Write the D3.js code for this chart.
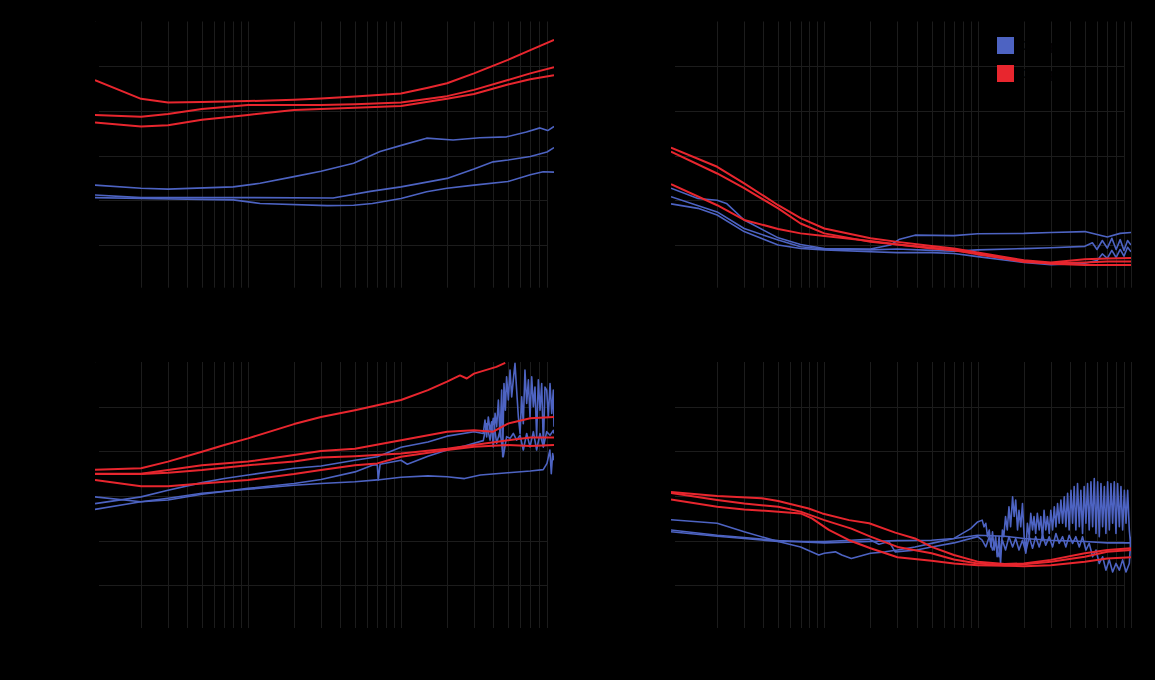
<!DOCTYPE html>
<html><head><meta charset="utf-8">
<script src="https://cdn.jsdelivr.net/npm/d3@7"></script>
<style>html,body{margin:0;padding:0;background:#000;}svg{display:block;}</style>
</head><body>
<svg id="chart" width="1155" height="680"></svg>
<script>
// ---------- data ----------
const freqDomain = [1, 1000];
const yDomain = [0, 60];
const yTicks = [0, 10, 20, 30, 40, 50, 60];
const legendLabels = ["Group 1", "Group 2"];
const panelTitles = ["(a)", "(b)", "(c)", "(d)"];
const xLabel = "Frequency (Hz)";
const yLabels = ["Magnitude (dB)", "Magnitude (dB)", "Magnitude (dB)", "Magnitude (dB)"];

// top-left
const tlRed1 = [[1,46.9],[2,42.7],[3,41.9],[5,42.0],[10,42.2],[20,42.5],[30,42.8],[50,43.2],[100,43.9],[150,45.2],[200,46.2],[300,48.4],[500,51.4],[700,53.6],[1000,55.9]];
const tlRed2 = [[1,39.1],[2,38.7],[3,39.3],[5,40.4],[10,41.3],[20,41.3],[30,41.3],[50,41.5],[100,41.9],[200,43.3],[300,44.7],[500,46.9],[700,48.4],[1000,49.8]];
const tlRed3 = [[1,37.4],[2,36.5],[3,36.8],[5,38.0],[10,39.1],[20,40.2],[30,40.4],[50,40.7],[100,41.1],[200,42.7],[300,43.8],[500,45.9],[700,47.1],[1000,48.0]];
const tlBlue1 = [[1,23.4],[2,22.7],[3,22.5],[8,23.0],[12,23.8],[20,25.3],[30,26.5],[49,28.3],[73,30.9],[103,32.4],[147,33.9],[219,33.5],[328,34.0],[490,34.2],[660,35.3],[810,36.2],[910,35.6],[1000,36.5]];
const tlBlue2 = [[1,21.2],[2,20.6],[10,20.6],[36,20.5],[63,22.0],[100,23.0],[200,24.9],[300,27.0],[400,28.6],[500,29.0],[700,29.8],[900,30.8],[1000,31.8]];
const tlBlue3 = [[1,20.6],[2,20.4],[8,20.1],[12,19.3],[33,18.8],[49,18.9],[65,19.3],[100,20.4],[147,21.9],[200,22.7],[300,23.4],[500,24.2],[700,25.7],[850,26.4],[1000,26.3]];

// top-right
const trRed1 = [[1,31.8],[2,27.5],[3,23.8],[5,18.9],[7,16.0],[10,13.7],[20,11.5],[30,10.7],[50,9.8],[70,9.2],[100,8.3],[200,6.6],[300,6.1],[500,6.8],[700,7.0],[1000,7.1]];
const trRed2 = [[1,30.9],[2,26.0],[3,22.7],[5,18.2],[7,14.8],[10,12.6],[20,10.7],[30,10.1],[50,9.4],[70,8.8],[100,7.9],[200,6.4],[300,5.8],[500,5.5],[700,5.5],[1000,5.5]];
const trRed3 = [[1,23.6],[2,18.9],[3,15.6],[5,13.6],[7,12.6],[10,12.0],[20,10.9],[30,10.1],[50,9.2],[70,8.9],[100,8.1],[200,6.2],[300,5.9],[500,6.1],[700,6.3],[1000,6.3]];
const trBlue1 = [[1,22.7],[1.5,20.4],[2,20.0],[2.3,19.3],[3,15.6],[5,11.6],[7,10.1],[10,9.2],[20,9.1],[27,10.0],[31,11.3],[39,12.2],[70,12.1],[100,12.5],[200,12.6],[300,12.8],[500,13.0],[700,11.8],[850,12.6],[1000,12.8]];
const trBlue2 = [[1,20.8],[2,17.4],[3,13.7],[5,11.1],[7,9.6],[10,9.1],[20,8.9],[30,9.1],[50,8.8],[70,8.6],[100,8.9],[200,9.2],[300,9.4],[500,9.7],[560,10.5],[600,9.0],[650,11.0],[700,9.3],[750,11.5],[800,9.0],[850,11.2],[900,8.8],[950,11.0],[1000,10.0]];
const trBlue3 = [[1,19.2],[1.5,18.2],[2,16.7],[3,13.0],[5,10.0],[7,9.2],[10,8.9],[20,8.5],[30,8.3],[50,8.3],[70,8.1],[100,7.4],[200,6.1],[300,5.6],[500,5.9],[600,6.5],[650,8.0],[700,7.0],[750,8.8],[800,7.2],[850,9.0],[900,7.5],[950,9.5],[1000,8.5]];

// bottom-left
const blRed1 = [[1,35.9],[2,36.2],[3,37.7],[5,39.9],[7,41.4],[10,42.9],[20,46.1],[30,47.7],[50,49.2],[70,50.3],[100,51.5],[150,53.7],[200,55.6],[243,57.0],[269,56.3],[300,57.4],[420,58.9],[480,59.8]];
const blRed2 = [[1,35.0],[2,35.0],[3,35.8],[5,36.9],[10,37.7],[20,39.2],[30,40.1],[50,40.6],[100,42.5],[200,44.4],[300,44.7],[400,44.4],[500,46.2],[700,47.4],[1000,47.7]];
const blRed3 = [[1,34.9],[2,34.9],[3,35.2],[5,35.8],[10,36.9],[20,37.7],[30,38.6],[50,38.9],[100,39.5],[200,40.6],[300,41.4],[500,42.5],[700,43.1],[1000,43.1]];
const blRed4 = [[1,33.6],[2,32.2],[3,32.2],[5,32.8],[10,33.6],[20,34.9],[30,35.8],[50,36.9],[70,37.3],[100,38.8],[200,40.3],[300,41.0],[500,41.4],[700,41.2],[1000,41.4]];
const blBlue1 = [[1,28.3],[2,29.8],[3,31.3],[5,33.0],[7,33.9],[10,34.7],[20,36.2],[30,36.7],[50,38.0],[70,38.8],[100,40.9],[150,42.1],[200,43.4],[300,44.4],
  [345,44.0],[354,47.0],[363,43.2],[372,47.7],[382,44.7],[391,46.6],[401,41.0],[412,48.5],[422,45.5],[433,51.5],[444,43.2],[455,53.7],[462,38.8],[471,55.2],[481,49.2],[490,56.7],[503,51.5],[516,58.2],[529,52.2],[542,56.0],[556,59.7],[570,53.7],[585,47.7],[600,44.0],[615,52.2],[630,46.2],[646,58.2],[663,50.7],[680,56.0],[697,47.7],[715,56.7],[733,50.0],[751,54.4],[770,43.2],[790,56.0],[810,49.2],[831,55.2],[852,41.0],[873,54.4],[896,53.7],[918,47.7],[942,55.2],[966,48.5],[990,53.7],[1000,45.5]];
const blBlue2 = [[1,29.8],[2,28.7],[3,29.1],[5,30.4],[10,31.7],[20,32.8],[30,33.7],[50,35.4],[65,36.9],[70,37.0],[71,33.6],[73,37.1],[100,38.0],[110,37.1],[150,38.9],[200,40.3],[260,41.2],
  [345,42.4],[363,46.2],[382,42.5],[401,47.4],[422,41.8],[444,44.7],[466,38.8],[490,43.3],[516,42.9],[542,44.0],[570,42.5],[600,43.6],[630,40.3],[663,44.0],[697,41.0],[733,44.4],[770,40.3],[810,44.0],[852,41.0],[896,44.4],[942,43.6],[990,44.7],[1000,44.0]];
const blBlue3 = [[1,27.0],[2,28.7],[3,29.5],[5,30.6],[10,31.5],[20,32.4],[30,32.8],[50,33.2],[70,33.6],[100,34.2],[150,34.5],[200,34.3],[260,33.9],[330,34.7],[500,35.2],[700,35.6],[850,35.9],[900,37.3],[940,40.3],[960,35.0],[980,39.5],[1000,38.0]];

// bottom-right
const brRed1 = [[1,30.9],[2,30.0],[3.9,29.5],[5,28.9],[7.9,27.2],[9.7,26.1],[14.5,24.6],[19.6,23.9],[29,21.8],[39,20.5],[50,18.6],[70,16.8],[100,15.3],[150,14.8],[200,14.9],[300,15.7],[500,17.2],[700,17.9],[1000,18.3]];
const brRed2 = [[1,30.7],[2,29.1],[3,28.3],[5,27.6],[7,26.5],[10,24.6],[15,22.7],[20,20.9],[30,18.6],[50,17.2],[70,15.8],[100,14.9],[150,14.5],[200,14.7],[300,15.3],[500,16.4],[700,17.5],[1000,17.9]];
const brRed3 = [[1,29.2],[2,27.6],[3,27.0],[5,26.5],[7,26.1],[8.3,25.0],[10.7,22.4],[14.5,20.1],[20,18.3],[30,16.3],[50,15.5],[70,14.9],[100,14.5],[200,14.3],[300,14.5],[500,15.3],[700,16.0],[1000,16.3]];
const brBlue1 = [[1,24.7],[2,23.9],[3,22.0],[5,19.8],[7,18.6],[9.2,16.8],[10,17.2],[11.8,17.5],[13,16.8],[15,16.0],[20,17.2],[25,17.5],[30,17.9],[39,18.6],[50,19.4],[70,20.5],[90,22.7],[100,24.2],
  [107,24.6],[110,23.1],[113,23.9],[116,20.9],[119,22.4],[122,18.6],[125,22.0],[128,17.9],[131,20.9],[134,16.4],[138,20.9],[141,14.9],[145,22.4],[148,20.9],[152,25.4],[156,22.4],[160,27.6],[164,23.1],[169,29.8],[173,25.4],[177,29.1],[182,22.4],[186,26.8],[191,23.1],[196,28.3],[201,20.9],[206,17.2],[211,23.9],[217,20.9],[222,26.1],[228,22.4],[233,25.4],[239,21.6],[245,26.1],[252,22.4],[258,25.4],[265,20.1],[271,26.8],[278,22.4],[285,25.4],[293,21.6],[300,26.8],[308,22.4],[316,27.6],[324,23.1],[332,28.3],[340,23.9],[349,29.1],[358,23.9],[367,29.8],[376,23.1],[386,30.6],[395,22.4],[406,31.3],[416,23.9],[426,32.1],[437,22.4],[448,32.8],[460,23.1],[471,31.3],[483,21.6],[495,32.1],[508,23.9],[521,32.8],[534,22.4],[548,33.2],[562,23.1],[576,33.9],[591,21.6],[606,33.2],[621,20.9],[637,32.8],[653,23.1],[670,32.1],[686,21.6],[704,33.2],[722,22.4],[740,32.8],[759,23.9],[778,33.2],[798,21.6],[818,32.8],[839,23.1],[860,32.1],[882,22.4],[905,31.3],[928,23.9],[951,31.3],[975,22.4],[1000,17.9]];
const brBlue2 = [[1,22.4],[2,21.2],[3,20.7],[5,20.0],[10,19.5],[20,19.8],[30,20.0],[50,20.1],[70,20.5],[100,21.2],[150,21.0],[200,20.5],[300,20.1],[500,19.8],[700,19.5],[1000,19.5]];
const brBlue3 = [[1,22.0],[2,21.0],[3,20.5],[5,19.8],[10,19.8],[15,20.1],[19.6,20.3],[22.7,19.2],[26.4,19.8],[29,17.5],[40,17.9],[50,18.6],[70,19.5],[100,20.9],
  [107,20.1],[113,18.6],[119,20.9],[125,17.9],[131,19.4],[138,16.4],[145,20.1],[152,17.9],[160,20.9],[169,18.6],[177,20.5],[186,17.9],[196,20.1],[206,17.5],[217,20.9],[228,18.3],[239,20.9],[252,18.6],[265,21.2],[278,19.0],[293,20.9],[308,18.6],[324,21.6],[340,19.4],[358,20.9],[376,18.6],[395,21.2],[416,19.4],[437,20.9],[460,18.6],[483,20.9],[508,17.9],[534,19.4],[562,16.4],[591,17.9],[621,14.9],[653,16.4],[686,13.4],[722,15.7],[759,13.0],[798,14.9],[839,13.4],[882,15.7],[928,13.0],[975,14.9],[1000,20.9]];

// ---------- layout ----------
const COLORS = { blue: "#4d63c2", red: "#e8262e", grid: "#1c1c1c", text: "#000000" };
const panels = [
  { x0: 95,  x1: 554,  y0: 21.5, y1: 289.7, side: "left",  red: [tlRed1, tlRed2, tlRed3], blue: [tlBlue1, tlBlue2, tlBlue3] },
  { x0: 671, x1: 1131, y0: 21.5, y1: 289.7, side: "right", red: [trRed1, trRed2, trRed3], blue: [trBlue1, trBlue2, trBlue3] },
  { x0: 95,  x1: 554,  y0: 362,  y1: 630,   side: "left",  red: [blRed1, blRed2, blRed3, blRed4], blue: [blBlue1, blBlue2, blBlue3] },
  { x0: 671, x1: 1131, y0: 362,  y1: 630,   side: "right", red: [brRed1, brRed2, brRed3], blue: [brBlue1, brBlue2, brBlue3] }
];

const svg = d3.select("#chart");
svg.append("rect").attr("width", 1155).attr("height", 680).attr("fill", "#000");
const FONT = "Liberation Sans, Arial, sans-serif";

panels.forEach((p, i) => {
  const x = d3.scaleLog().domain(freqDomain).range([p.x0, p.x1]);
  const y = d3.scaleLinear().domain(yDomain).range([p.y1, p.y0]);
  const g = svg.append("g");
  const clipId = "clip" + i;
  svg.append("clipPath").attr("id", clipId).append("rect")
    .attr("x", p.x0).attr("y", p.y0).attr("width", p.x1 - p.x0).attr("height", p.y1 - p.y0);

  // vertical grid
  const vt = x.ticks().filter(d => p.side === "left" ? d < 1000 : d > 1);
  g.append("g").selectAll("line").data(vt).join("line")
    .attr("x1", d => Math.round(x(d)) + 0.5).attr("x2", d => Math.round(x(d)) + 0.5)
    .attr("y1", p.y0).attr("y2", p.y1 - 2)
    .attr("stroke", COLORS.grid).attr("stroke-width", 1);
  // horizontal grid
  g.append("g").selectAll("line").data(yTicks.slice(1, -1)).join("line")
    .attr("x1", p.x0 + 4).attr("x2", p.x1 - 6)
    .attr("y1", d => Math.round(y(d)) + 0.5).attr("y2", d => Math.round(y(d)) + 0.5)
    .attr("stroke", COLORS.grid).attr("stroke-width", 1);

  // axes (black, as in reference)
  const ax = g.append("g").attr("transform", `translate(0,${p.y1})`)
    .call(d3.axisBottom(x).tickValues([1, 10, 100, 1000]).tickFormat(d3.format("d")));
  const ay = g.append("g").attr("transform", `translate(${p.x0},0)`)
    .call(d3.axisLeft(y).tickValues(yTicks));
  [ax, ay].forEach(a => {
    a.selectAll("path,line").attr("stroke", COLORS.text);
    a.selectAll("text").attr("fill", COLORS.text).style("font-family", FONT).style("font-size", "12px");
  });
  g.append("text").attr("x", (p.x0 + p.x1) / 2).attr("y", p.y1 + 38)
    .attr("text-anchor", "middle").attr("fill", COLORS.text)
    .style("font-family", FONT).style("font-size", "13px").text(xLabel);
  g.append("text").attr("transform", `translate(${p.x0 - 42},${(p.y0 + p.y1) / 2}) rotate(-90)`)
    .attr("text-anchor", "middle").attr("fill", COLORS.text)
    .style("font-family", FONT).style("font-size", "13px").text(yLabels[i]);
  g.append("text").attr("x", p.x0 + 10).attr("y", p.y0 + 14).attr("fill", COLORS.text)
    .style("font-family", FONT).style("font-size", "13px").text(panelTitles[i]);

  const line = d3.line().x(d => x(d[0])).y(d => y(d[1])).curve(d3.curveLinear);
  const lines = g.append("g").attr("clip-path", `url(#${clipId})`);
  p.blue.forEach(s => lines.append("path").datum(s).attr("d", line)
    .attr("fill", "none").attr("stroke", COLORS.blue).attr("stroke-width", 1.6).attr("stroke-linejoin", "round"));
  p.red.forEach(s => lines.append("path").datum(s).attr("d", line)
    .attr("fill", "none").attr("stroke", COLORS.red).attr("stroke-width", 2).attr("stroke-linejoin", "round"));
});

// legend (top-right panel)
const legend = svg.append("g").attr("transform", "translate(997,37)");
[COLORS.blue, COLORS.red].forEach((c, i) => {
  legend.append("rect").attr("x", 0).attr("y", i * 28).attr("width", 17).attr("height", 17).attr("fill", c);
  legend.append("text").attr("x", 24).attr("y", i * 28 + 13).attr("fill", COLORS.text)
    .style("font-family", FONT).style("font-size", "13px").text(legendLabels[i]);
});
</script>
</body></html>
